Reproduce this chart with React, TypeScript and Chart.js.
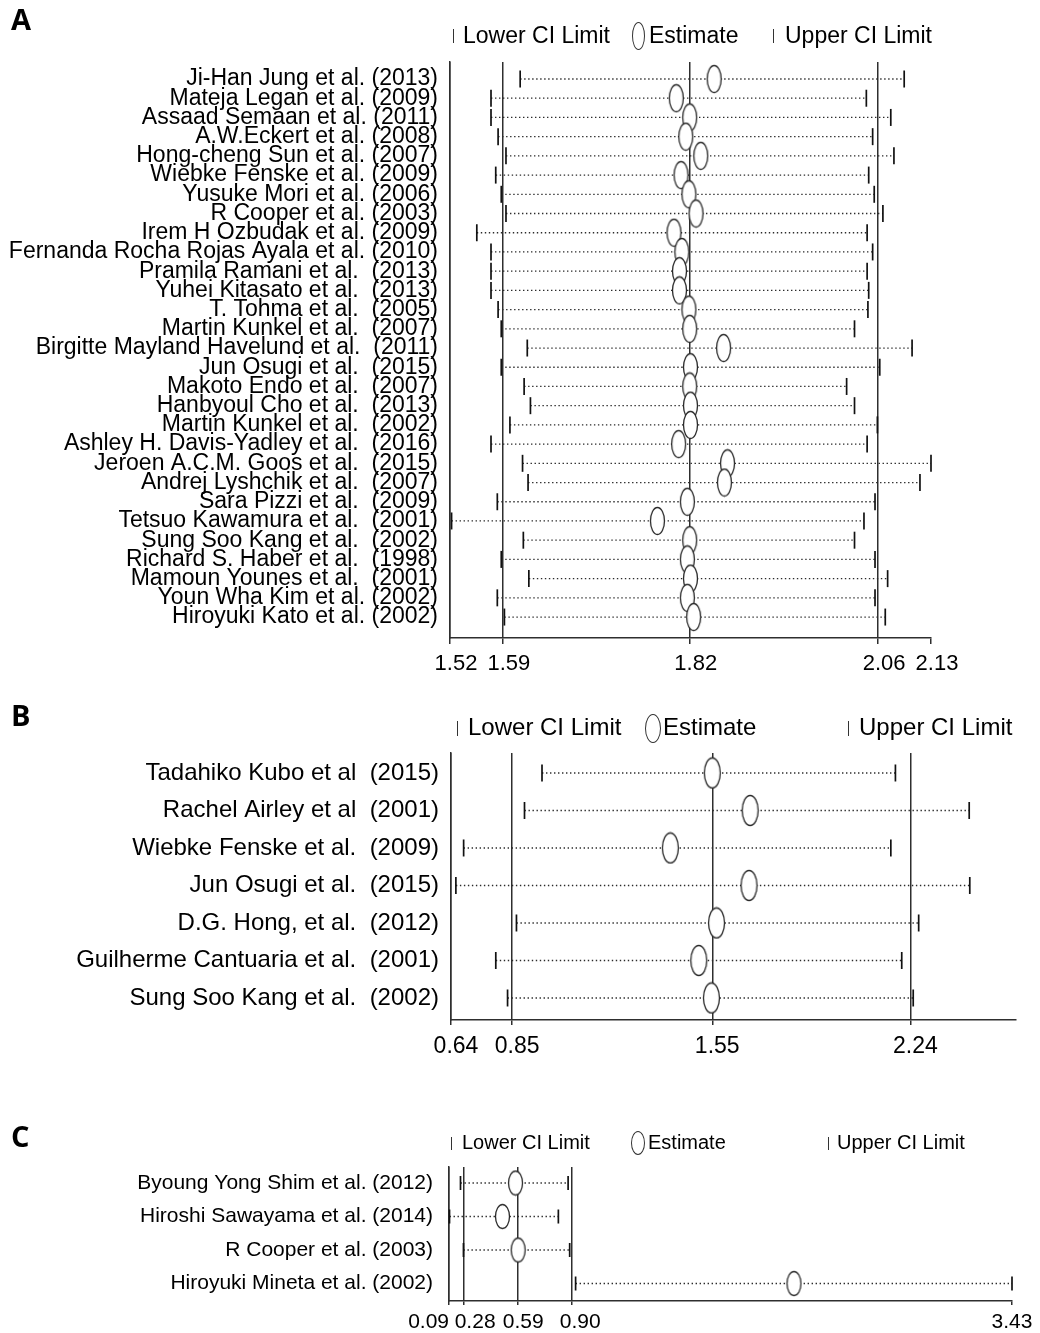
import React, { useEffect, useRef } from "react";
import { Chart, registerables } from "chart.js";

Chart.register(...registerables);

// ---------------- Panel A ----------------
const studiesA = [
  "Ji-Han Jung et al. (2013)",
  "Mateja Legan et al. (2009)",
  "Assaad Semaan et al. (2011)",
  "A.W.Eckert et al. (2008)",
  "Hong-cheng Sun et al. (2007)",
  "Wiebke Fenske et al. (2009)",
  "Yusuke Mori et al. (2006)",
  "R Cooper et al. (2003)",
  "Irem H Ozbudak et al. (2009)",
  "Fernanda Rocha Rojas Ayala et al. (2010)",
  "Pramila Ramani et al.  (2013)",
  "Yuhei Kitasato et al.  (2013)",
  "T. Tohma et al.  (2005)",
  "Martin Kunkel et al.  (2007)",
  "Birgitte Mayland Havelund et al.  (2011)",
  "Jun Osugi et al.  (2015)",
  "Makoto Endo et al.  (2007)",
  "Hanbyoul Cho et al.  (2013)",
  "Martin Kunkel et al.  (2002)",
  "Ashley H. Davis-Yadley et al.  (2016)",
  "Jeroen A.C.M. Goos et al.  (2015)",
  "Andrej Lyshchik et al.  (2007)",
  "Sara Pizzi et al.  (2009)",
  "Tetsuo Kawamura et al.  (2001)",
  "Sung Soo Kang et al.  (2002)",
  "Richard S. Haber et al.  (1998)",
  "Mamoun Younes et al.  (2001)",
  "Youn Wha Kim et al. (2002)",
  "Hiroyuki Kato et al. (2002)",
];
const lowerA = [1.609, 1.572, 1.572, 1.581, 1.591, 1.578, 1.585, 1.591, 1.554, 1.572, 1.572, 1.572, 1.581, 1.585, 1.618, 1.585, 1.614, 1.622, 1.596, 1.572, 1.612, 1.619, 1.58, 1.522, 1.613, 1.585, 1.62, 1.58, 1.589];
const estimateA = [1.855, 1.807, 1.824, 1.819, 1.838, 1.813, 1.823, 1.832, 1.804, 1.814, 1.811, 1.811, 1.823, 1.824, 1.867, 1.825, 1.824, 1.825, 1.825, 1.81, 1.872, 1.868, 1.821, 1.783, 1.824, 1.821, 1.825, 1.821, 1.829];
const upperA = [2.096, 2.048, 2.079, 2.056, 2.083, 2.051, 2.058, 2.069, 2.049, 2.056, 2.049, 2.051, 2.05, 2.033, 2.106, 2.065, 2.023, 2.033, 2.062, 2.049, 2.13, 2.116, 2.059, 2.045, 2.033, 2.059, 2.075, 2.059, 2.072];
const tickValuesA = [1.52, 1.587, 1.824, 2.063, 2.13];
const tickLabelsA = ["1.52", "1.59", "1.82", "2.06", "2.13"];

// ---------------- Panel B ----------------
const studiesB = [
  "Tadahiko Kubo et al  (2015)",
  "Rachel Airley et al  (2001)",
  "Wiebke Fenske et al.  (2009)",
  "Jun Osugi et al.  (2015)",
  "D.G. Hong, et al.  (2012)",
  "Guilherme Cantuaria et al.  (2001)",
  "Sung Soo Kang et al.  (2002)",
];
const lowerB = [0.957, 0.896, 0.684, 0.657, 0.868, 0.796, 0.837];
const estimateB = [1.55, 1.682, 1.404, 1.678, 1.565, 1.503, 1.547];
const upperB = [2.188, 2.445, 2.172, 2.447, 2.269, 2.21, 2.25];
const tickValuesB = [0.64, 0.853, 1.55, 2.24];
const tickLabelsB = ["0.64", "0.85", "1.55", "2.24"];
const axisMaxB = 2.608;

// ---------------- Panel C ----------------
const studiesC = [
  "Byoung Yong Shim et al. (2012)",
  "Hiroshi Sawayama et al. (2014)",
  "R Cooper et al. (2003)",
  "Hiroyuki Mineta et al. (2002)",
];
const lowerC = [0.263, 0.2, 0.28, 0.924];
const estimateC = [0.579, 0.504, 0.594, 2.178];
const upperC = [0.881, 0.825, 0.89, 3.43];
const tickValuesC = [0.197, 0.28, 0.59, 0.9, 3.43];
const tickLabelsC = ["0.09", "0.28", "0.59", "0.90", "3.43"];

const FONT = "'Liberation Sans', Arial, Helvetica, sans-serif";

type PanelCfg = {
  top: number;
  height: number;
  names: string[];
  lower: number[];
  est: number[];
  upper: number[];
  xMin: number;
  xMax: number;
  tickValues: number[];
  tickLabels: string[];
  labelPad?: string[][];
  noLineIdx: number;
  yMin: number;
  yMax: number;
  padTop: number;
  padRight: number;
  yAxisW: number;
  xAxisH: number;
  yLabelPad: number;
  labelSize: number;
  tickSize: number;
  tickLen: number;
  tickPad: number;
  labelOffset: number;
  ellW: number;
  ellH: number;
  ciTick: number;
};

function makeEllipse(w: number, h: number) {
  const c = document.createElement("canvas");
  c.width = w + 3;
  c.height = h + 3;
  const ctx = c.getContext("2d")!;
  ctx.beginPath();
  ctx.ellipse(c.width / 2, c.height / 2, w / 2, h / 2, 0, 0, Math.PI * 2);
  ctx.fillStyle = "#ffffff";
  ctx.fill();
  ctx.lineWidth = 1.3;
  ctx.strokeStyle = "#2a2a2a";
  ctx.stroke();
  return c;
}

function ForestPanel({ cfg }: { cfg: PanelCfg }) {
  const ref = useRef<HTMLCanvasElement>(null);
  useEffect(() => {
    const canvas = ref.current;
    if (!canvas) return;
    const n = cfg.names.length;
    const ell = makeEllipse(cfg.ellW, cfg.ellH);
    const linePts: { x: number; y: number | null }[] = [];
    for (let i = 0; i < n; i++) {
      linePts.push({ x: cfg.lower[i], y: i });
      linePts.push({ x: cfg.est[i], y: i });
      linePts.push({ x: cfg.upper[i], y: i });
      linePts.push({ x: cfg.upper[i], y: null });
    }
    const chart = new Chart(canvas, {
      type: "scatter",
      data: {
        datasets: [
          {
            label: "Estimate",
            data: cfg.est.map((v, i) => ({ x: v, y: i })),
            pointStyle: ell as any,
            pointRadius: 10,
            clip: false as any,
          },
          {
            label: "Lower CI Limit",
            data: cfg.lower.map((v, i) => ({ x: v, y: i })),
            pointStyle: "line",
            pointRotation: 90,
            pointRadius: cfg.ciTick,
            pointBorderColor: "#111111",
            pointBorderWidth: 1.7,
            clip: false as any,
          },
          {
            label: "Upper CI Limit",
            data: cfg.upper.map((v, i) => ({ x: v, y: i })),
            pointStyle: "line",
            pointRotation: 90,
            pointRadius: cfg.ciTick,
            pointBorderColor: "#111111",
            pointBorderWidth: 1.7,
            clip: false as any,
          },
          {
            label: "CI",
            data: linePts as any,
            showLine: true,
            spanGaps: false,
            pointRadius: 0,
            borderColor: "#2b2b2b",
            borderWidth: 1.3,
            borderDash: [1.4, 2.6],
            clip: false as any,
          },
        ],
      },
      options: {
        animation: false,
        responsive: false,
        events: [],
        layout: { padding: { left: 0, right: cfg.padRight, top: cfg.padTop, bottom: 0 } },
        plugins: { legend: { display: false }, tooltip: { enabled: false } },
        scales: {
          x: {
            type: "linear",
            min: cfg.xMin,
            max: cfg.xMax,
            afterBuildTicks: (s: any) => {
              s.ticks = cfg.tickValues.map((v) => ({ value: v }));
            },
            afterFit: (s: any) => {
              s.height = cfg.xAxisH;
            },
            ticks: {
              autoSkip: false,
              maxRotation: 0,
              minRotation: 0,
              color: "#000",
              font: { family: FONT, size: cfg.tickSize },
              padding: cfg.tickPad,
              labelOffset: cfg.labelOffset,
              callback: (_v: any, idx: number) => {
                const pad = cfg.labelPad ? cfg.labelPad[idx] : ["", ""];
                return pad[0] + cfg.tickLabels[idx] + pad[1];
              },
            },
            grid: {
              color: (c: any) => (c.index === cfg.noLineIdx ? "rgba(0,0,0,0)" : "#2e2e2e"),
              tickColor: "#2e2e2e",
              lineWidth: 1.5,
              tickLength: cfg.tickLen,
              drawOnChartArea: true,
            },
            border: { display: true, color: "#2e2e2e", width: 1.5 },
          },
          y: {
            type: "linear",
            reverse: true,
            min: cfg.yMin,
            max: cfg.yMax,
            afterBuildTicks: (s: any) => {
              s.ticks = cfg.names.map((_n, i) => ({ value: i }));
            },
            afterFit: (s: any) => {
              s.width = cfg.yAxisW;
            },
            ticks: {
              autoSkip: false,
              color: "#000",
              font: { family: FONT, size: cfg.labelSize },
              padding: cfg.yLabelPad,
              callback: (_v: any, idx: number) => cfg.names[idx],
            },
            grid: { display: false, drawTicks: false },
            border: { display: true, color: "#2e2e2e", width: 1.5 },
          },
        },
      },
    } as any);
    return () => chart.destroy();
  }, []);
  return (
    <canvas
      ref={ref}
      width={1040}
      height={cfg.height}
      style={{ position: "absolute", left: 0, top: cfg.top, width: 1040, height: cfg.height }}
    />
  );
}

type LegendCfg = {
  cy: number;
  size: number;
  barH: number;
  ellW: number;
  ellH: number;
  lowerBarX: number;
  lowerTextX: number;
  ellX: number;
  estTextX: number;
  upperBarX: number;
  upperTextX: number;
};

function Legend({ l }: { l: LegendCfg }) {
  const txt = (x: number, s: string) => (
    <div
      style={{
        position: "absolute",
        left: x,
        top: l.cy - l.size / 2 - 1,
        height: l.size,
        lineHeight: `${l.size}px`,
        fontFamily: FONT,
        fontSize: l.size,
        color: "#000",
        whiteSpace: "nowrap",
      }}
    >
      {s}
    </div>
  );
  const bar = (x: number) => (
    <div
      style={{
        position: "absolute",
        left: x,
        top: l.cy - l.barH / 2,
        width: 0,
        height: l.barH,
        borderLeft: "1.5px solid #333",
      }}
    />
  );
  return (
    <>
      {bar(l.lowerBarX)}
      {txt(l.lowerTextX, "Lower CI Limit")}
      <div
        style={{
          position: "absolute",
          left: l.ellX - l.ellW / 2,
          top: l.cy - l.ellH / 2,
          width: l.ellW,
          height: l.ellH,
          border: "1.3px solid #333",
          borderRadius: "50%",
          boxSizing: "border-box",
        }}
      />
      {txt(l.estTextX, "Estimate")}
      {bar(l.upperBarX)}
      {txt(l.upperTextX, "Upper CI Limit")}
    </>
  );
}

const panelA: PanelCfg = {
  top: 0,
  height: 690,
  names: studiesA,
  lower: lowerA,
  est: estimateA,
  upper: upperA,
  xMin: 1.52,
  xMax: 2.13,
  tickValues: tickValuesA,
  tickLabels: tickLabelsA,
  noLineIdx: 4,
  yMin: -0.885,
  yMax: 29.09,
  padTop: 62,
  padRight: 109,
  yAxisW: 450,
  xAxisH: 52,
  yLabelPad: 12,
  labelSize: 23,
  tickSize: 22,
  tickLen: 6,
  tickPad: 7,
  labelOffset: 6,
  ellW: 14,
  ellH: 27,
  ciTick: 8.5,
};

const panelB: PanelCfg = {
  top: 690,
  height: 380,
  names: studiesB,
  lower: lowerB,
  est: estimateB,
  upper: upperB,
  xMin: 0.64,
  xMax: axisMaxB,
  tickValues: tickValuesB,
  tickLabels: tickLabelsB,
  noLineIdx: -1,
  yMin: -0.533,
  yMax: 6.587,
  padTop: 63,
  padRight: 24,
  yAxisW: 451,
  xAxisH: 50,
  yLabelPad: 12,
  labelSize: 24,
  tickSize: 23,
  tickLen: 5,
  tickPad: 8,
  labelOffset: 5,
  ellW: 16,
  ellH: 30,
  ciTick: 8.5,
};

const panelC: PanelCfg = {
  top: 1070,
  height: 263,
  names: studiesC,
  lower: lowerC,
  est: estimateC,
  upper: upperC,
  xMin: 0.197,
  xMax: 3.43,
  tickValues: tickValuesC,
  tickLabels: tickLabelsC,
  labelPad: [
    ["", "       "],
    ["    ", ""],
    ["  ", ""],
    ["   ", ""],
    ["", ""],
  ],
  noLineIdx: 4,
  yMin: -0.478,
  yMax: 3.522,
  padTop: 97,
  padRight: 28,
  yAxisW: 449,
  xAxisH: 32,
  yLabelPad: 16,
  labelSize: 21,
  tickSize: 21,
  tickLen: 4,
  tickPad: 5,
  labelOffset: 0,
  ellW: 14,
  ellH: 24,
  ciTick: 7,
};

const legendA: LegendCfg = {
  cy: 36, size: 23, barH: 14, ellW: 13, ellH: 28,
  lowerBarX: 453, lowerTextX: 463, ellX: 638, estTextX: 649, upperBarX: 773, upperTextX: 785,
};
const legendB: LegendCfg = {
  cy: 728, size: 24, barH: 15, ellW: 16, ellH: 29,
  lowerBarX: 457, lowerTextX: 468, ellX: 653, estTextX: 663, upperBarX: 848, upperTextX: 859,
};
const legendC: LegendCfg = {
  cy: 1143, size: 20, barH: 13, ellW: 14, ellH: 24,
  lowerBarX: 451, lowerTextX: 462, ellX: 638, estTextX: 648, upperBarX: 828, upperTextX: 837,
};

function PanelLetter({ text, top }: { text: string; top: number }) {
  return (
    <div
      style={{
        position: "absolute",
        left: 11,
        top,
        fontFamily: "'Open Sans', 'DejaVu Sans', sans-serif",
        fontWeight: 700,
        fontSize: 29,
        lineHeight: "29px",
        color: "#000",
      }}
    >
      {text}
    </div>
  );
}

export default function App() {
  return (
    <div
      style={{
        position: "absolute",
        left: 0,
        top: 0,
        width: 1040,
        height: 1333,
        background: "#fff",
        overflow: "hidden",
      }}
    >
      <ForestPanel cfg={panelA} />
      <ForestPanel cfg={panelB} />
      <ForestPanel cfg={panelC} />
      <Legend l={legendA} />
      <Legend l={legendB} />
      <Legend l={legendC} />
      <PanelLetter text="A" top={4} />
      <PanelLetter text="B" top={700} />
      <PanelLetter text="C" top={1121} />
    </div>
  );
}
